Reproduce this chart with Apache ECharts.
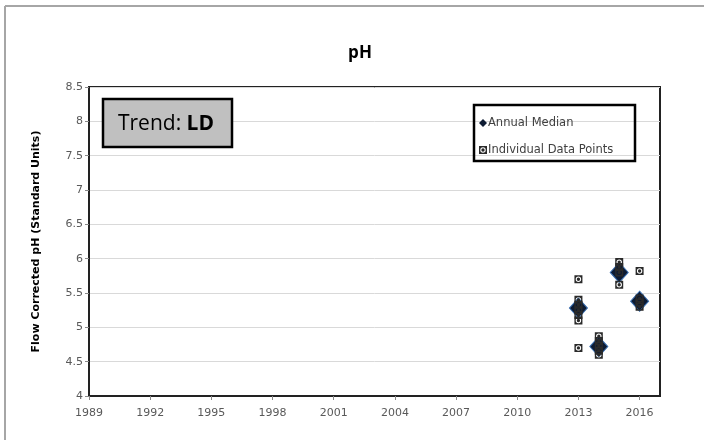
<!DOCTYPE html>
<html>
<head>
<meta charset="utf-8">
<script src="https://cdn.jsdelivr.net/npm/echarts@6/dist/echarts.min.js"></script>
<style>
html,body{margin:0;padding:0;background:#fff;}
#chart{width:704px;height:440px;}
</style>
</head>
<body>
<div id="chart"></div>
<script>
// ---- data ----
var medianYears = [2013, 2014, 2015, 2016];
var medianValues = [5.28, 4.72, 5.80, 5.38];

var pointYears  = [2013, 2013, 2013, 2013, 2013, 2013, 2013,
                   2014, 2014, 2014, 2014, 2014,
                   2015, 2015, 2015, 2015,
                   2016, 2016, 2016, 2016];
var pointValues = [5.70, 5.40, 5.33, 5.25, 5.18, 5.10, 4.70,
                   4.87, 4.80, 4.73, 4.66, 4.60,
                   5.95, 5.88, 5.80, 5.62,
                   5.82, 5.42, 5.36, 5.30];

var xTickLabels = ['1989','1992','1995','1998','2001','2004','2007','2010','2013','2016'];
var yTickLabels = ['4','4.5','5','5.5','6','6.5','7','7.5','8','8.5'];

var chartTitle = 'pH';
var yAxisTitle = 'Flow Corrected pH (Standard Units)';
var trendLabel = 'Trend: ';
var trendValue = 'LD';
var seriesNames = ['Annual Median', 'Individual Data Points'];

var medianData = medianYears.map(function (y, i) { return [y, medianValues[i]]; });
var pointData = pointYears.map(function (y, i) { return [y, pointValues[i]]; });

var chart = echarts.init(document.getElementById('chart'), null, {renderer: 'canvas'});
var FONT = '"DejaVu Sans", sans-serif';
var TFONT = '"Open Sans", sans-serif';
// dark square with a thin light ring inside
var SQ_RING = 'path://M0,0 H10 V10 H0 Z M5,1.6 A3.4,3.4 0 1,0 5,8.4 A3.4,3.4 0 1,0 5,1.6 Z M5,2.9 A2.1,2.1 0 1,1 5,7.1 A2.1,2.1 0 1,1 5,2.9 Z';

chart.setOption({
  animation: false,
  backgroundColor: '#ffffff',
  grid: {
    left: 89, right: 44, top: 87, bottom: 44,
    show: true, borderColor: '#222', borderWidth: 2, backgroundColor: 'transparent'
  },
  xAxis: {
    type: 'value', min: 1989, max: 2017, interval: 3,
    axisLine: {show: true, lineStyle: {color: '#222', width: 2}},
    axisTick: {show: true, length: 4, lineStyle: {color: '#888'}},
    splitLine: {show: false},
    axisLabel: {
      showMaxLabel: false, margin: 12, color: '#595959', fontSize: 11, fontFamily: FONT,
      formatter: function (v) { var i = xTickLabels.indexOf(String(v)); return i >= 0 ? xTickLabels[i] : ''; }
    }
  },
  yAxis: {
    type: 'value', min: 4, max: 8.5, interval: 0.5,
    name: yAxisTitle, nameLocation: 'middle', nameGap: 47, nameRotate: 90,
    nameTextStyle: {fontFamily: FONT, fontSize: 11, fontWeight: 'bold', color: '#000'},
    axisLine: {show: true, lineStyle: {color: '#222', width: 2}},
    axisTick: {show: true, length: 4, lineStyle: {color: '#888'}},
    splitLine: {show: true, lineStyle: {color: '#d9d9d9', width: 1}},
    axisLabel: {
      margin: 6, color: '#595959', fontSize: 11, fontFamily: FONT,
      formatter: function (v) { var s = String(+v.toFixed(1)); var i = yTickLabels.indexOf(s); return i >= 0 ? yTickLabels[i] : ''; }
    }
  },
  legend: {
    orient: 'vertical', left: 474, top: 112, itemGap: 15,
    itemWidth: 8, itemHeight: 8,
    textStyle: {fontFamily: FONT, fontSize: 11.5, color: '#404040', padding: [0,0,0,-4]},
    data: [
      {name: seriesNames[0], icon: 'diamond', itemStyle: {color: '#0d1b33', borderWidth: 0}},
      {name: seriesNames[1], icon: SQ_RING, itemStyle: {color: '#2a2a2a', borderWidth: 0}}
    ]
  },
  graphic: [
    {type: 'line', shape: {x1: 5, y1: 6, x2: 704, y2: 6}, style: {stroke: '#a6a6a6', lineWidth: 2}, silent: true},
    {type: 'line', shape: {x1: 5, y1: 6, x2: 5, y2: 440}, style: {stroke: '#a6a6a6', lineWidth: 2}, silent: true},
    {type: 'text', z: 11,
     style: {x: 360, y: 53, text: chartTitle, align: 'center', verticalAlign: 'middle',
             font: 'bold 17px ' + TFONT, fill: '#000'}},
    {type: 'rect', shape: {x: 103, y: 99, width: 129, height: 48},
     style: {fill: '#c0c0c0', stroke: '#000', lineWidth: 2.5}, z: 10},
    {type: 'text', z: 11,
     style: {
       text: '{n|' + trendLabel + '}{b|' + trendValue + '}',
       x: 166, y: 124, align: 'center', verticalAlign: 'middle',
       rich: {
         n: {fontFamily: TFONT, fontSize: 21, color: '#000'},
         b: {fontFamily: TFONT, fontSize: 21, fontWeight: 'bold', color: '#000'}
       }
     }},
    {type: 'rect', shape: {x: 474, y: 105, width: 161, height: 56},
     style: {fill: 'transparent', stroke: '#000', lineWidth: 2.5}, z: 10}
  ],
  series: [
    {
      name: seriesNames[0], type: 'scatter', data: medianData,
      symbol: 'diamond', symbolSize: [18, 20],
      itemStyle: {color: '#0d1b33', borderColor: '#3a6fb0', borderWidth: 1, opacity: 1},
      z: 3
    },
    {
      name: seriesNames[1], type: 'scatter', data: pointData,
      symbol: SQ_RING, symbolSize: 8,
      itemStyle: {color: '#2a2a2a', opacity: 1},
      z: 4
    }
  ]
});
</script>
</body>
</html>
